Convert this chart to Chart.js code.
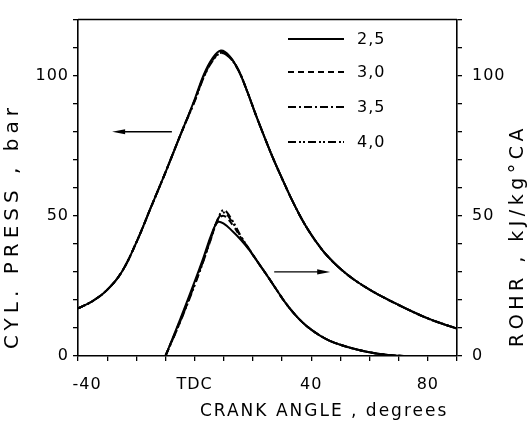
<!DOCTYPE html>
<html><head><meta charset="utf-8">
<script src="https://cdn.jsdelivr.net/npm/chart.js@4.4.1/dist/chart.umd.min.js"></script>
<style>html,body{margin:0;padding:0;background:#fff;}canvas{display:block;}</style>
</head><body>
<canvas id="c" width="529" height="430"></canvas>
<script>
// ---------- data ----------
const caseLabels = ['2,5', '3,0', '3,5', '4,0'];

const pressAngles = [-40,-35,-30,-25,-20,-15,-10,-5,0,3,6,9,12,15,18,21,24,27,30,33,36,38,40,42,45,50,55,60,65,70,75,80,85,90];
const press25 = [17,19.6,23.6,30,40.5,53,65.5,78.5,91.5,100,106,109,107,102,94.5,86,78,70.3,63.3,56.5,50.3,46.6,43.3,40.3,36.3,31.1,27,23.7,20.8,18.2,15.7,13.4,11.5,9.8];
const press30 = [17,19.6,23.6,30,40.5,53,65.5,78.5,91.2,99.5,105.6,108.5,106.7,102,94.5,86,78,70.3,63.3,56.5,50.3,46.6,43.3,40.3,36.3,31.1,27,23.7,20.8,18.2,15.7,13.4,11.5,9.8];
const press35 = [17,19.6,23.6,30,40.5,53,65.5,78.5,91,99.2,105.3,108.2,106.5,102,94.5,86,78,70.3,63.3,56.5,50.3,46.6,43.3,40.3,36.3,31.1,27,23.7,20.8,18.2,15.7,13.4,11.5,9.8];
const press40 = [17,19.6,23.6,30,40.5,53,65.5,78.5,90.8,99,105,108,106.4,102,94.5,86,78,70.3,63.3,56.5,50.3,46.6,43.3,40.3,36.3,31.1,27,23.7,20.8,18.2,15.7,13.4,11.5,9.8];

const rohrAngles = [-10,-5,0,3,6,8,10,13,16,19,22,25,28,31,34,37,40,43,46,50,55,60,65,70,75,80,90];
const rohr25 = [0,13,26.5,35,44,47.8,47.2,44.5,41.3,37.5,33,28.5,23.8,19.2,15.3,12,9.4,7.3,5.6,4,2.5,1.3,0.5,0.1,0,0,0];
const rohr30 = [0,12.5,25.8,34.3,43.5,48.5,50,46.8,42,37.5,33,28.5,23.8,19.2,15.3,12,9.4,7.3,5.6,4,2.5,1.3,0.5,0.1,0,0,0];
const rohr35 = [0,12.2,25.5,34,43.2,48.8,51.2,47.6,42.3,37.6,33,28.5,23.8,19.2,15.3,12,9.4,7.3,5.6,4,2.5,1.3,0.5,0.1,0,0,0];
const rohr40 = [0,12,25.2,33.8,43,49,52,48.2,42.5,37.7,33,28.5,23.8,19.2,15.3,12,9.4,7.3,5.6,4,2.5,1.3,0.5,0.1,0,0,0];

const xTickValues = [-40, 0, 40, 80];
const xTickLabels = ['   -40', 'TDC', '40', '80'];
const yTickValues = [0, 50, 100];
const yTickLabels = ['0', '50', '100'];

const xAxisTitle = 'CRANK ANGLE , degrees';
const yLeftTitle = 'CYL. PRESS , bar';
const yRightTitle = 'ROHR , kJ/kg°CA';

// arrows (data coordinates): tail x, head x, y level, axis
const arrowTailX = [-7.8, 27.3];
const arrowHeadX = [-28.3, 46.5];
const arrowY = [80, 30];
const arrowAxis = ['y', 'y2'];

// ---------- styles ----------
const FONT = "'DejaVu Sans', sans-serif";
const dashes = [[], [6, 4], [8, 3, 2, 3], [8, 3, 2, 2, 2, 3]];

const pressSeries = [press25, press30, press35, press40];
const rohrSeries = [rohr25, rohr30, rohr35, rohr40];

const datasets = [];
pressSeries.forEach((s, i) => datasets.push({
  label: caseLabels[i], yAxisID: 'y',
  data: pressAngles.map((a, j) => ({x: a, y: s[j]})),
  borderColor: '#000', borderWidth: 2, borderDash: dashes[i], fill: false
}));
rohrSeries.forEach((s, i) => datasets.push({
  label: caseLabels[i], yAxisID: 'y2',
  data: rohrAngles.map((a, j) => ({x: a, y: s[j]})),
  borderColor: '#000', borderWidth: 2, borderDash: dashes[i], fill: false
}));

function tickCb(values, labels) {
  return (v) => { const k = values.indexOf(v); return k < 0 ? '' : labels[k]; };
}

const spacingPlugin = {
  id: 'spacing',
  beforeDraw(chart) { chart.ctx.letterSpacing = '1px'; }
};

const decorPlugin = {
  id: 'decor',
  afterDraw(chart) {
    const ctx = chart.ctx, a = chart.chartArea, xs = chart.scales.x;
    ctx.save();
    // top frame line
    ctx.strokeStyle = '#000'; ctx.lineWidth = 1.5;
    ctx.beginPath(); ctx.moveTo(a.left, a.top); ctx.lineTo(a.right, a.top); ctx.stroke();

    // arrows
    for (let i = 0; i < arrowY.length; i++) {
      const ys = chart.scales[arrowAxis[i]];
      const x1 = xs.getPixelForValue(arrowTailX[i]);
      const x2 = xs.getPixelForValue(arrowHeadX[i]);
      const y = ys.getPixelForValue(arrowY[i]);
      const dir = Math.sign(x2 - x1);
      ctx.lineWidth = 1.4;
      ctx.beginPath(); ctx.moveTo(x1, y); ctx.lineTo(x2 - dir * 6, y); ctx.stroke();
      ctx.fillStyle = '#000';
      ctx.beginPath();
      ctx.moveTo(x2, y);
      ctx.lineTo(x2 - dir * 13, y - 2.6);
      ctx.lineTo(x2 - dir * 13, y + 2.6);
      ctx.closePath(); ctx.fill();
    }

    // legend
    const legX1 = 288, legX2 = 344, legTx = 357, legRows = [39, 72, 107, 142];
    ctx.font = '16px ' + FONT;
    ctx.letterSpacing = '1px';
    ctx.fillStyle = '#000';
    ctx.textBaseline = 'middle'; ctx.textAlign = 'left';
    for (let i = 0; i < caseLabels.length; i++) {
      ctx.lineWidth = 2;
      ctx.setLineDash(dashes[i]);
      ctx.beginPath(); ctx.moveTo(legX1, legRows[i]); ctx.lineTo(legX2, legRows[i]); ctx.stroke();
      ctx.setLineDash([]);
      ctx.fillText(caseLabels[i], legTx, legRows[i] + 1);
    }

    // axis titles
    ctx.font = '17px ' + FONT;
    ctx.letterSpacing = '2px';
    ctx.textAlign = 'left'; ctx.textBaseline = 'middle';
    ctx.fillText(xAxisTitle, 200, 412);

    ctx.font = '20px ' + FONT;
    ctx.letterSpacing = '5px';
    ctx.save();
    ctx.translate(13, 349); ctx.rotate(-Math.PI / 2);
    ctx.fillText(yLeftTitle, 0, 0);
    ctx.restore();

    ctx.font = '19px ' + FONT;
    ctx.letterSpacing = '4.5px';
    ctx.save();
    ctx.translate(518, 347); ctx.rotate(-Math.PI / 2);
    ctx.fillText(yRightTitle, 0, 0);
    ctx.restore();
    ctx.restore();
  }
};

const tickFont = {family: FONT, size: 16};
const gridStyle = {drawOnChartArea: false, drawTicks: true, tickLength: 5, color: '#000', lineWidth: 1.3};
const borderStyle = {display: true, color: '#000', width: 1.6};

new Chart(document.getElementById('c'), {
  type: 'line',
  data: {datasets},
  plugins: [spacingPlugin, decorPlugin],
  options: {
    responsive: false, animation: false, devicePixelRatio: 1,
    layout: {padding: {top: 8, left: 0, right: 0, bottom: 0}},
    plugins: {legend: {display: false}, tooltip: {enabled: false}},
    elements: {point: {radius: 0}, line: {tension: 0.4}},
    scales: {
      x: {
        type: 'linear', position: 'bottom', min: -40, max: 90,
        ticks: {stepSize: 10, autoSkip: false, maxRotation: 0, color: '#000', font: tickFont, padding: 14,
                callback: tickCb(xTickValues, xTickLabels)},
        grid: gridStyle, border: borderStyle,
        afterFit: (s) => { s.height = 74; }
      },
      y: {
        type: 'linear', position: 'left', min: 0, max: 120,
        ticks: {stepSize: 10, autoSkip: false, color: '#000', font: tickFont, padding: 4,
                callback: tickCb(yTickValues, yTickLabels)},
        grid: gridStyle, border: borderStyle,
        afterFit: (s) => { s.width = 78; }
      },
      y2: {
        type: 'linear', position: 'right', min: 0, max: 120,
        ticks: {stepSize: 10, autoSkip: false, color: '#000', font: tickFont, padding: 10,
                callback: tickCb(yTickValues, yTickLabels)},
        grid: gridStyle, border: borderStyle,
        afterFit: (s) => { s.width = 72; }
      }
    }
  }
});
</script>
</body></html>
